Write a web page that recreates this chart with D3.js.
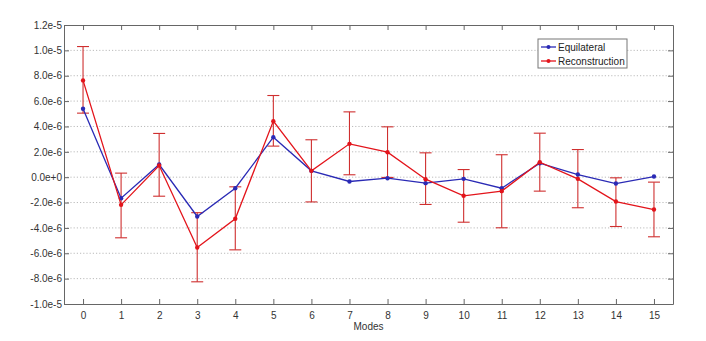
<!DOCTYPE html>
<html>
<head>
<meta charset="utf-8">
<script src="https://cdn.jsdelivr.net/npm/d3@7"></script>
<style>
  body { margin: 0; background: #fff; }
  svg { font-family: "Liberation Sans", Arial, sans-serif; }
  .grid line { stroke: #bbb; stroke-dasharray: 1.2, 2; }
  .axis path, .axis line { stroke: #666; }
  .axis text { fill: #333; font-size: 10px; }
</style>
</head>
<body>
<svg width="706" height="341"></svg>
<script>
// modes along x
var modes = d3.range(0, 16);
var yTicks = [1.2e-5, 1.0e-5, 8e-6, 6e-6, 4e-6, 2e-6, 0, -2e-6, -4e-6, -6e-6, -8e-6, -1e-5];
var yTickLabels = ["1.2e-5", "1.0e-5", "8.0e-6", "6.0e-6", "4.0e-6", "2.0e-6", "0.0e+0",
                   "-2.0e-6", "-4.0e-6", "-6.0e-6", "-8.0e-6", "-1.0e-5"];

// values
var equilateral = [5.4e-6, -1.66e-6, 1.0e-6, -3.1e-6, -0.87e-6, 3.15e-6, 0.5e-6, -0.34e-6,
                   -0.08e-6, -0.47e-6, -0.13e-6, -0.87e-6, 1.1e-6, 0.21e-6, -0.5e-6, 0.05e-6];
var reconstruction = [7.63e-6, -2.18e-6, 0.92e-6, -5.54e-6, -3.28e-6, 4.42e-6, 0.5e-6, 2.63e-6,
                      1.97e-6, -0.16e-6, -1.47e-6, -1.1e-6, 1.18e-6, -0.13e-6, -1.92e-6, -2.55e-6];
var reconHigh = [10.3e-6, 0.32e-6, 3.45e-6, -2.8e-6, -0.76e-6, 6.44e-6, 2.95e-6, 5.15e-6,
                 3.97e-6, 1.92e-6, 0.6e-6, 1.77e-6, 3.47e-6, 2.18e-6, -0.05e-6, -0.39e-6];
var reconLow = [5.05e-6, -4.78e-6, -1.5e-6, -8.25e-6, -5.73e-6, 2.45e-6, -1.95e-6, 0.19e-6,
                -0.02e-6, -2.15e-6, -3.55e-6, -3.99e-6, -1.1e-6, -2.41e-6, -3.89e-6, -4.7e-6];

var svg = d3.select("svg"),
    margin = {top: 25, right: 33, bottom: 37, left: 64},
    width = +svg.attr("width") - margin.left - margin.right,
    height = +svg.attr("height") - margin.top - margin.bottom;

var x = d3.scaleLinear().domain([-0.5, 15.5]).range([0, width]);
var y = d3.scaleLinear().domain([-1e-5, 1.2e-5]).range([height, 0]);

var g = svg.append("g")
    .attr("transform", "translate(" + margin.left + "," + margin.top + ")");

// dotted horizontal grid
g.append("g")
    .attr("class", "grid")
    .selectAll("line")
    .data(yTicks.slice(1, -1))
    .enter().append("line")
        .attr("x1", 0)
        .attr("x2", width)
        .attr("y1", function(d) { return y(d); })
        .attr("y2", function(d) { return y(d); });

// axes (ticks pointing inward, box all round)
g.append("g")
    .attr("class", "axis axis--x")
    .attr("transform", "translate(0," + height + ")")
    .call(d3.axisBottom(x).tickValues(modes).tickFormat(d3.format("d")).tickSizeInner(-5).tickSizeOuter(0).tickPadding(8));

g.append("g")
    .attr("class", "axis axis--top")
    .call(d3.axisTop(x).tickValues(modes).tickFormat("").tickSizeInner(-5).tickSizeOuter(0));

g.append("g")
    .attr("class", "axis axis--y")
    .call(d3.axisLeft(y).tickValues(yTicks)
        .tickFormat(function(d, i) { return yTickLabels[i]; })
        .tickSizeInner(-5).tickSizeOuter(0).tickPadding(2));

g.append("g")
    .attr("class", "axis axis--right")
    .attr("transform", "translate(" + width + ",0)")
    .call(d3.axisRight(y).tickValues(yTicks).tickFormat("").tickSizeInner(-5).tickSizeOuter(0));

g.append("text")
    .attr("x", x(7.5))
    .attr("y", height + 26)
    .attr("text-anchor", "middle")
    .attr("font-size", "10px")
    .attr("fill", "#333")
    .text("Modes");

// error bars for reconstruction
var eb = g.append("g").attr("stroke", "#cf2f2f").attr("stroke-width", 1.1);
eb.selectAll(".ebv")
    .data(modes)
    .enter().append("line")
        .attr("x1", function(d) { return x(d); })
        .attr("x2", function(d) { return x(d); })
        .attr("y1", function(d, i) { return y(reconHigh[i]); })
        .attr("y2", function(d, i) { return y(reconLow[i]); });
[reconHigh, reconLow].forEach(function(arr) {
    eb.append("g").selectAll("line")
        .data(modes)
        .enter().append("line")
            .attr("x1", function(d) { return x(d) - 6; })
            .attr("x2", function(d) { return x(d) + 6; })
            .attr("y1", function(d, i) { return y(arr[i]); })
            .attr("y2", function(d, i) { return y(arr[i]); });
});

var line = d3.line()
    .x(function(d) { return x(d[0]); })
    .y(function(d) { return y(d[1]); });

var series = [
    {name: "Equilateral", values: equilateral, color: "#2a2ab5"},
    {name: "Reconstruction", values: reconstruction, color: "#e3141b"}
];

series.forEach(function(s) {
    var pts = modes.map(function(m, i) { return [m, s.values[i]]; });
    g.append("path")
        .datum(pts)
        .attr("fill", "none")
        .attr("stroke", s.color)
        .attr("stroke-width", 1.3)
        .attr("d", line);
    g.append("g").selectAll("circle")
        .data(pts)
        .enter().append("circle")
            .attr("cx", function(d) { return x(d[0]); })
            .attr("cy", function(d) { return y(d[1]); })
            .attr("r", 2.2)
            .attr("fill", s.color);
});

// legend
var legend = svg.append("g").attr("transform", "translate(538,39)");
legend.append("rect")
    .attr("width", 89)
    .attr("height", 29)
    .attr("fill", "#fff")
    .attr("stroke", "#777");
series.forEach(function(s, i) {
    var ly = 8 + i * 14;
    legend.append("line")
        .attr("x1", 3).attr("x2", 18)
        .attr("y1", ly).attr("y2", ly)
        .attr("stroke", s.color).attr("stroke-width", 1.3);
    legend.append("circle")
        .attr("cx", 10.5).attr("cy", ly).attr("r", 2)
        .attr("fill", s.color);
    legend.append("text")
        .attr("x", 20).attr("y", ly + 3.5)
        .attr("font-size", "10px")
        .attr("fill", "#222")
        .text(s.name);
});
</script>
</body>
</html>
